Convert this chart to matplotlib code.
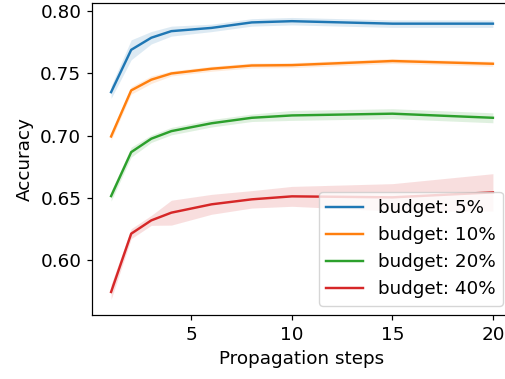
import matplotlib
matplotlib.use("Agg")
import matplotlib.pyplot as plt
import numpy as np

steps = [1, 2, 3, 4, 6, 8, 10, 15, 20]
labels = ["budget: 5%", "budget: 10%", "budget: 20%", "budget: 40%"]
means = [
    [0.735, 0.769, 0.7787, 0.784, 0.7866, 0.791, 0.792, 0.790, 0.790],
    [0.6994, 0.7364, 0.745, 0.750, 0.7538, 0.7564, 0.7567, 0.760, 0.7578],
    [0.6515, 0.6868, 0.6976, 0.7037, 0.710, 0.7144, 0.7163, 0.7177, 0.7144],
    [0.5745, 0.6213, 0.632, 0.6382, 0.6449, 0.6489, 0.6513, 0.6505, 0.6545],
]
ci = [
    [0.005, 0.008, 0.005, 0.004, 0.003, 0.003, 0.003, 0.003, 0.003],
    [0.003, 0.003, 0.003, 0.002, 0.002, 0.002, 0.002, 0.002, 0.002],
    [0.004, 0.004, 0.003, 0.003, 0.003, 0.003, 0.004, 0.004, 0.004],
    [0.006, 0.004, 0.004, 0.010, 0.008, 0.007, 0.008, 0.011, 0.015],
]
colors = ["#1f77b4", "#ff7f0e", "#2ca02c", "#d62728"]

s = 1.1
plt.rcParams.update({
    "xtick.major.size": 3.5 * s, "ytick.major.size": 3.5 * s,
    "xtick.major.pad": 3.5 * s, "ytick.major.pad": 3.5 * s,
    "xtick.major.width": 0.8 * s, "ytick.major.width": 0.8 * s,
    "axes.linewidth": 0.8 * s,
})

fig = plt.figure(figsize=(5.06, 3.79), dpi=100)
W, H = 506, 379
ax = fig.add_axes([92 / W, (H - 315) / H, (512 - 92) / W, (315 - 2.5) / H])

x = np.array(steps)
for m, c, col, lab in zip(means, ci, colors, labels):
    m = np.array(m)
    c = np.array(c)
    ax.fill_between(x, m - c, m + c, color=col, alpha=0.15, linewidth=0)
    ax.plot(x, m, color=col, lw=1.75, label=lab)

fs = 13.2
ax.set_xlim(0.05, 20.95)
ax.set_ylim(0.556, 0.807)
ax.set_xticks([5, 10, 15, 20])
ax.set_yticks([0.60, 0.65, 0.70, 0.75, 0.80])
ax.tick_params(labelsize=fs)
ax.set_xlabel("Propagation steps", fontsize=fs, labelpad=4 * s)
ax.set_ylabel("Accuracy", fontsize=fs, labelpad=4 * s)
ax.legend(loc="lower right", fontsize=fs)

fig.savefig("out.png", dpi=100)
